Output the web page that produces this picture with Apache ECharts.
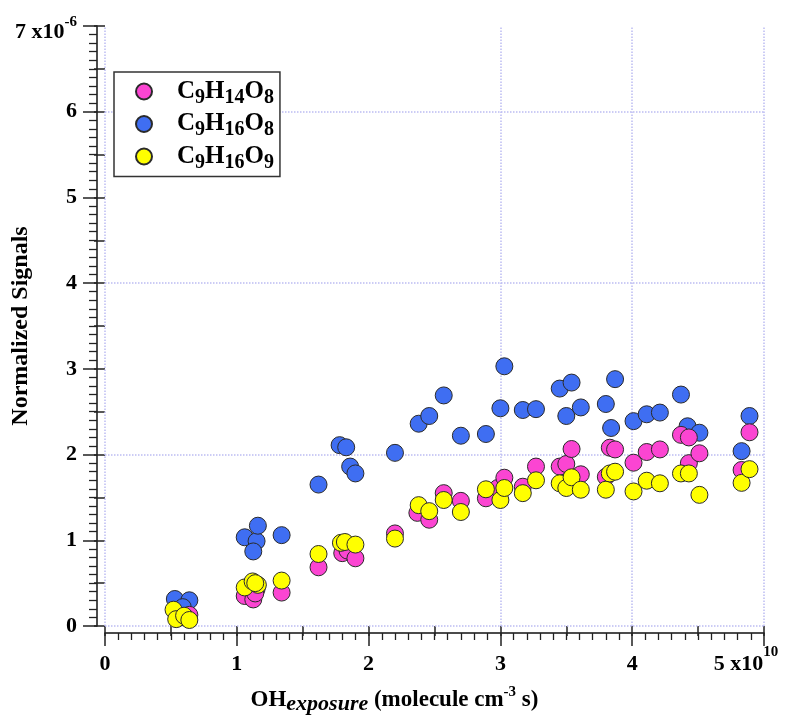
<!DOCTYPE html>
<html><head><meta charset="utf-8">
<script src="https://cdn.jsdelivr.net/npm/echarts@6/dist/echarts.min.js"></script>
<style>html,body{margin:0;padding:0;background:#fff}#c{width:801px;height:722px}</style>
</head><body><div id="c"></div>
<script>
// ---- data (x in 1e10 molecule cm-3 s, y in 1e-6) ----
const seriesNames = ['C9H14O8', 'C9H16O8', 'C9H16O9'];
const c9h14o8 = [
  [0.55,0.09],[0.64,0.13],[0.60,0.10],[1.06,0.35],[1.125,0.31],[1.15,0.43],[1.14,0.38],[1.34,0.39],
  [1.62,0.685],[1.80,0.85],[1.84,0.88],[1.90,0.79],[2.20,1.08],[2.37,1.32],[2.46,1.24],[2.57,1.55],
  [2.70,1.46],[2.89,1.49],[2.98,1.61],[3.03,1.73],[3.17,1.625],[3.27,1.86],[3.45,1.86],[3.50,1.89],
  [3.54,2.065],[3.61,1.77],[3.80,1.74],[3.83,2.08],[3.87,2.06],[4.01,1.905],[4.11,2.03],[4.21,2.06],
  [4.37,2.23],[4.43,2.20],[4.43,1.90],[4.51,2.015],[4.83,1.82],[4.89,2.26]
];
const c9h16o8 = [
  [0.53,0.315],[0.64,0.30],[0.59,0.22],[1.06,1.035],[1.15,0.99],[1.125,0.87],[1.16,1.17],[1.34,1.06],
  [1.62,1.65],[1.78,2.11],[1.83,2.085],[1.86,1.86],[1.90,1.78],[2.20,2.02],[2.38,2.36],[2.46,2.45],
  [2.57,2.69],[2.70,2.22],[2.89,2.24],[3.00,2.54],[3.03,3.03],[3.17,2.52],[3.27,2.53],[3.45,2.77],
  [3.50,2.45],[3.54,2.84],[3.61,2.55],[3.80,2.59],[3.84,2.31],[3.87,2.88],[4.01,2.39],[4.11,2.47],
  [4.21,2.49],[4.37,2.70],[4.42,2.33],[4.51,2.255],[4.83,2.04],[4.89,2.45]
];
const c9h16o9 = [
  [0.52,0.19],[0.54,0.08],[0.60,0.12],[0.64,0.07],[1.06,0.45],[1.12,0.52],[1.16,0.48],[1.14,0.50],
  [1.34,0.53],[1.62,0.84],[1.79,0.97],[1.82,0.98],[1.90,0.95],[2.20,1.02],[2.38,1.41],[2.46,1.34],
  [2.57,1.47],[2.70,1.33],[2.89,1.595],[3.00,1.47],[3.03,1.61],[3.17,1.55],[3.27,1.70],[3.45,1.665],
  [3.50,1.61],[3.54,1.735],[3.61,1.59],[3.80,1.59],[3.83,1.78],[3.87,1.80],[4.01,1.57],[4.11,1.695],
  [4.21,1.665],[4.37,1.78],[4.43,1.78],[4.51,1.53],[4.83,1.67],[4.89,1.83]
];
const xTickLabels = ['0', '1', '2', '3', '4', '5 x10'];
const xExponent = '10';
const yTickLabels = ['0', '1', '2', '3', '4', '5', '6', '7 x10'];
const yExponent = '-6';
const gridX = [0, 3, 4, 5];
const gridY = [0, 2, 4, 6];

// ---- styling ----
const FONT = "'Liberation Serif','Times New Roman',serif";
const colors = { 'C9H14O8': '#fb45d2', 'C9H16O8': '#3f6ef2', 'C9H16O9': '#ffff00' };
const dataByName = { 'C9H14O8': c9h14o8, 'C9H16O8': c9h16o8, 'C9H16O9': c9h16o9 };
const drawOrder = ['C9H16O8', 'C9H14O8', 'C9H16O9'];

const chem = name => '{sp|}' + name.replace(/([A-Z]+)|(\d+)/g, (m, a, d) => a ? `{m|${a}}` : `{s|${d}}`);

const tickStyle = { color: '#222', width: 1.5 };
const labelBase = { color: '#000', fontFamily: FONT, fontWeight: 'bold', fontSize: 22 };

const chart = echarts.init(document.getElementById('c'), null, { renderer: 'canvas' });
const option = {
  animation: false,
  backgroundColor: '#fff',
  grid: { left: 105, right: 37, top: 26, bottom: 96, containLabel: false, outerBoundsMode: 'none' },
  legend: {
    left: 114, top: 72, orient: 'vertical',
    padding: [7, 6, 4, 21],
    borderColor: '#333', borderWidth: 1.5, backgroundColor: '#fff',
    itemGap: 4, itemWidth: 16, itemHeight: 16, icon: 'circle',
    selectedMode: false,
    data: seriesNames,
    formatter: chem,
    textStyle: {
      color: '#000',
      rich: {
        sp: { width: 20 },
        m: { fontFamily: FONT, fontWeight: 'bold', fontSize: 25, lineHeight: 32, verticalAlign: 'middle', color: '#000' },
        s: { fontFamily: FONT, fontWeight: 'bold', fontSize: 20, lineHeight: 20, verticalAlign: 'bottom', color: '#000' }
      }
    }
  },
  xAxis: [{
    type: 'value', min: 0, max: 5, interval: 1, offset: 7, position: 'bottom',
    axisLine: { show: true, onZero: false, lineStyle: { color: '#111', width: 1.5 } },
    axisTick: { show: true, inside: false, length: 13, lineStyle: tickStyle },
    minorTick: { show: true, splitNumber: 10, length: 7, lineStyle: { color: '#222', width: 1.3 } },
    splitLine: { show: false }, minorSplitLine: { show: false },
    axisLabel: Object.assign({}, labelBase, {
      margin: 12,
      formatter: v => {
        const i = Math.round(v);
        const lab = xTickLabels[i];
        return i === xTickLabels.length - 1 ? `{n|${lab}}{sup|${xExponent}}{sp|}` : `{n|${lab}}`;
      },
      rich: {
        n: Object.assign({}, labelBase, { lineHeight: 30, height: 22, verticalAlign: 'bottom' }),
        sup: Object.assign({}, labelBase, { fontSize: 15, lineHeight: 30, height: 14, verticalAlign: 'top' }),
        sp: { width: 36 }
      }
    }),
    name: '{m|OH}{sub|exposure}{m| (molecule cm}{sup|-3}{m| s)}',
    nameLocation: 'middle', nameGap: 52, nameMoveOverlap: false,
    nameTextStyle: {
      padding: [0, 80, 0, 0],
      rich: {
        m: Object.assign({}, labelBase, { fontSize: 23, lineHeight: 30, verticalAlign: 'middle' }),
        sub: Object.assign({}, labelBase, { fontSize: 22, fontStyle: 'italic', lineHeight: 22, verticalAlign: 'bottom' }),
        sup: Object.assign({}, labelBase, { fontSize: 15, lineHeight: 15, verticalAlign: 'top' })
      }
    }
  }, {
    type: 'value', min: 0, max: 5, interval: 0.5, offset: 7, position: 'bottom',
    axisLine: { show: false }, axisLabel: { show: false },
    axisTick: { show: true, inside: false, length: 10, lineStyle: tickStyle },
    splitLine: { show: false }
  }],
  yAxis: [{
    type: 'value', min: 0, max: 7, interval: 1, offset: 8, position: 'left',
    axisLine: { show: true, onZero: false, lineStyle: { color: '#111', width: 1.5 } },
    axisTick: { show: true, inside: false, length: 14, lineStyle: tickStyle },
    minorTick: { show: true, splitNumber: 10, length: 8, lineStyle: { color: '#222', width: 1.3 } },
    splitLine: { show: false }, minorSplitLine: { show: false },
    axisLabel: Object.assign({}, labelBase, {
      margin: 20,
      formatter: v => {
        const i = Math.round(v);
        const lab = yTickLabels[i];
        return i === yTickLabels.length - 1 ? `{m|${lab}}{sup|${yExponent}}` : lab;
      },
      rich: {
        m: Object.assign({}, labelBase, { lineHeight: 34, height: 22, verticalAlign: 'bottom' }),
        sup: Object.assign({}, labelBase, { fontSize: 15, lineHeight: 34, height: 27, verticalAlign: 'top' })
      }
    }),
    name: 'Normalized Signals',
    nameLocation: 'middle', nameGap: 64, nameMoveOverlap: false,
    nameTextStyle: Object.assign({}, labelBase, { fontSize: 24 })
  }, {
    type: 'value', min: 0, max: 7, interval: 0.5, offset: 8, position: 'left',
    axisLine: { show: false }, axisLabel: { show: false },
    axisTick: { show: true, inside: false, length: 11, lineStyle: tickStyle },
    splitLine: { show: false }
  }],
  series: [{
    type: 'scatter', name: '__grid', data: [], silent: true,
    markLine: {
      z: 1, silent: true, symbol: ['none', 'none'], label: { show: false },
      lineStyle: { type: 'dotted', color: '#bcbcf2', width: 1.5 },
      emphasis: { disabled: true },
      data: gridX.map(v => ({ xAxis: v })).concat(gridY.map(v => ({ yAxis: v })))
    }
  }].concat(drawOrder.map(n => ({
    type: 'scatter', name: n, data: dataByName[n], z: 2,
    symbol: 'circle', symbolSize: 17,
    itemStyle: { color: colors[n], borderColor: '#2a2a2a', borderWidth: 1, opacity: 1 },
    emphasis: { disabled: true }
  })))
};
chart.setOption(option);
</script></body></html>
